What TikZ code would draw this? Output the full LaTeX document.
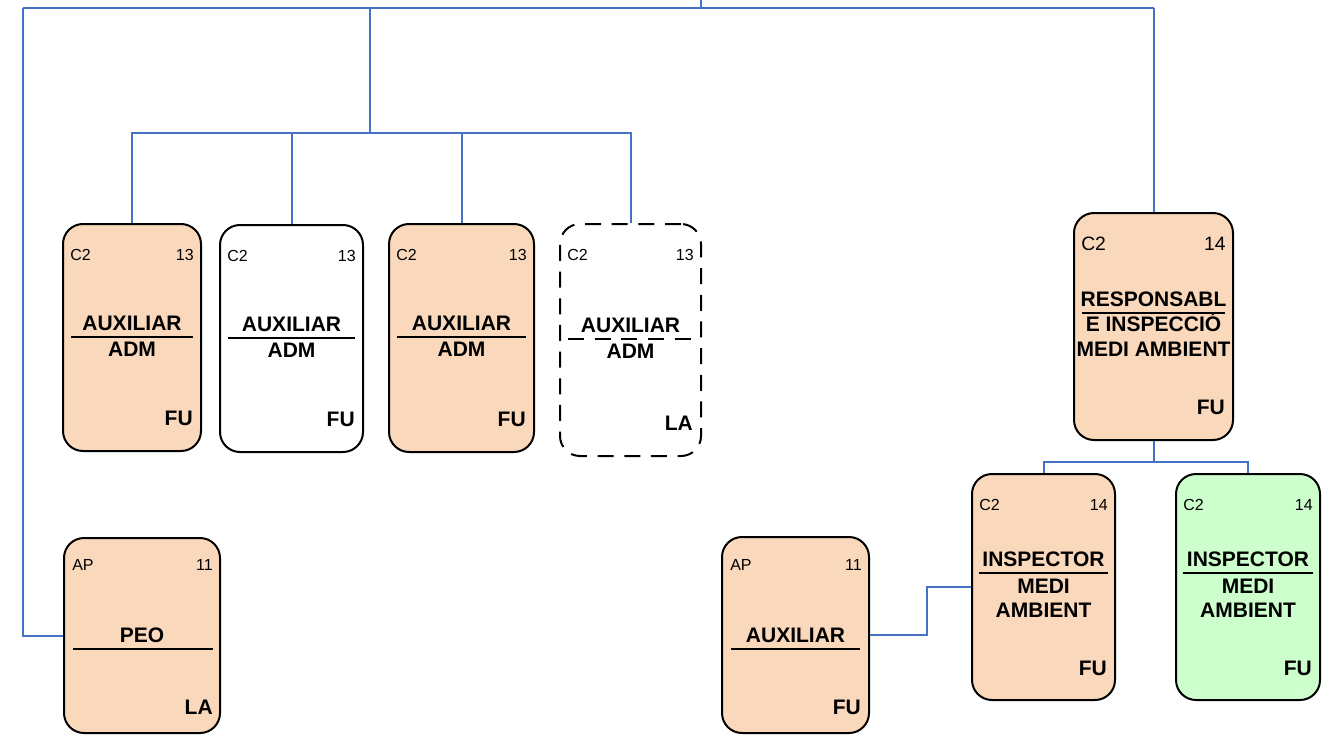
\documentclass[tikz,border=0pt]{standalone}
\usepackage{fontspec}
\setmainfont{Liberation Sans}
\definecolor{cardpeach}{HTML}{FAD8BC}
\definecolor{cardgreen}{HTML}{CCFFCC}
\definecolor{linkblue}{HTML}{4472C4}

\begin{document}
\begin{tikzpicture}[x=0.75pt,y=-0.75pt,
  card/.style={draw=black, line width=1.5pt, rounded corners=15pt, rectangle, inner sep=0pt},
  peach/.style={fill=cardpeach},
  greencard/.style={fill=cardgreen},
  vacant/.style={dash pattern=on 12pt off 8pt},
  grade/.style={inner sep=0pt, font=\fontsize{12}{14}\selectfont},
  biggrade/.style={inner sep=0pt, font=\fontsize{14.5}{17}\selectfont},
  post/.style={inner sep=0pt, font=\bfseries\fontsize{15.75}{19}\selectfont},
  rule/.style={draw=black, line width=1.5pt},
  link/.style={draw=linkblue, line width=1.5pt}]
\useasboundingbox (0,0) rectangle (1341,735);
% cards
\node[card, peach, minimum width=103.5pt, minimum height=170.25pt] (aux1) at (132,337.5) {};
\node[card, minimum width=107.25pt, minimum height=170.25pt] (aux2) at (291.5,338.5) {};
\node[card, peach, minimum width=108.75pt, minimum height=171pt] (aux3) at (461.5,338) {};
\node[card, vacant, minimum width=105.75pt, minimum height=174pt] (aux4) at (630.5,340) {};
\node[card, peach, minimum width=119.25pt, minimum height=170.25pt] (resp) at (1153.5,326.5) {};
\node[card, peach, minimum width=107.25pt, minimum height=169.5pt] (insp1) at (1043.5,587) {};
\node[card, greencard, minimum width=108pt, minimum height=169.5pt] (insp2) at (1248,587) {};
\node[card, peach, minimum width=117pt, minimum height=146.25pt] (peo) at (142,635.5) {};
\node[card, peach, minimum width=110.25pt, minimum height=147pt] (auxap) at (795.5,635) {};
% auxiliar adm 1
\node[grade, anchor=base west] (aux1g) at ([shift={(8,37)}]aux1.north west) {C2};
\node[grade, anchor=base east] (aux1n) at ([shift={(-8,37)}]aux1.north east) {13};
\node[post, anchor=base] (aux1t) at ([shift={(0,107)}]aux1.north) {AUXILIAR};
\draw[rule] ([shift={(9,114)}]aux1.north west) -- ([shift={(-9,114)}]aux1.north east);
\node[post, anchor=base] (aux1s) at ([shift={(0,133)}]aux1.north) {ADM};
\node[post, anchor=base east] (aux1c) at ([shift={(-9,-27)}]aux1.south east) {FU};
% auxiliar adm 2
\node[grade, anchor=base west] (aux2g) at ([shift={(8,37)}]aux2.north west) {C2};
\node[grade, anchor=base east] (aux2n) at ([shift={(-8,37)}]aux2.north east) {13};
\node[post, anchor=base] (aux2t) at ([shift={(0,107)}]aux2.north) {AUXILIAR};
\draw[rule] ([shift={(9,114)}]aux2.north west) -- ([shift={(-9,114)}]aux2.north east);
\node[post, anchor=base] (aux2s) at ([shift={(0,133)}]aux2.north) {ADM};
\node[post, anchor=base east] (aux2c) at ([shift={(-9,-27)}]aux2.south east) {FU};
% auxiliar adm 3
\node[grade, anchor=base west] (aux3g) at ([shift={(8,37)}]aux3.north west) {C2};
\node[grade, anchor=base east] (aux3n) at ([shift={(-8,37)}]aux3.north east) {13};
\node[post, anchor=base] (aux3t) at ([shift={(0,107)}]aux3.north) {AUXILIAR};
\draw[rule] ([shift={(9,114)}]aux3.north west) -- ([shift={(-9,114)}]aux3.north east);
\node[post, anchor=base] (aux3s) at ([shift={(0,133)}]aux3.north) {ADM};
\node[post, anchor=base east] (aux3c) at ([shift={(-9,-27)}]aux3.south east) {FU};
% auxiliar adm 4 (vacant)
\node[grade, anchor=base west] (aux4g) at ([shift={(8,37)}]aux4.north west) {C2};
\node[grade, anchor=base east] (aux4n) at ([shift={(-8,37)}]aux4.north east) {13};
\node[post, anchor=base] (aux4t) at ([shift={(0,109)}]aux4.north) {AUXILIAR};
\draw[rule, vacant] ([shift={(9,116)}]aux4.north west) -- ([shift={(-9,116)}]aux4.north east);
\node[post, anchor=base] (aux4s) at ([shift={(0,135)}]aux4.north) {ADM};
\node[post, anchor=base east] (aux4c) at ([shift={(-9,-27)}]aux4.south east) {LA};
% responsable
\node[biggrade, anchor=base west] (respg) at ([shift={(8,38)}]resp.north west) {C2};
\node[biggrade, anchor=base east] (respn) at ([shift={(-8,38)}]resp.north east) {14};
\node[post, anchor=base] (respt) at ([shift={(0,94)}]resp.north) {RESPONSABL};
\draw[rule] ([shift={(9,101)}]resp.north west) -- ([shift={(-9,101)}]resp.north east);
\node[post, anchor=base] (resps) at ([shift={(0,119)}]resp.north) {E INSPECCIÓ};
\node[post, anchor=base] (respm) at ([shift={(0,144)}]resp.north) {MEDI AMBIENT};
\node[post, anchor=base east] (respc) at ([shift={(-9,-27)}]resp.south east) {FU};
% inspector 1
\node[grade, anchor=base west] (insp1g) at ([shift={(8,37)}]insp1.north west) {C2};
\node[grade, anchor=base east] (insp1n) at ([shift={(-8,37)}]insp1.north east) {14};
\node[post, anchor=base] (insp1t) at ([shift={(0,93)}]insp1.north) {INSPECTOR};
\draw[rule] ([shift={(8,100)}]insp1.north west) -- ([shift={(-8,100)}]insp1.north east);
\node[post, anchor=base] (insp1s) at ([shift={(0,120)}]insp1.north) {MEDI};
\node[post, anchor=base] (insp1m) at ([shift={(0,144)}]insp1.north) {AMBIENT};
\node[post, anchor=base east] (insp1c) at ([shift={(-9,-26)}]insp1.south east) {FU};
% inspector 2
\node[grade, anchor=base west] (insp2g) at ([shift={(8,37)}]insp2.north west) {C2};
\node[grade, anchor=base east] (insp2n) at ([shift={(-8,37)}]insp2.north east) {14};
\node[post, anchor=base] (insp2t) at ([shift={(0,93)}]insp2.north) {INSPECTOR};
\draw[rule] ([shift={(8,100)}]insp2.north west) -- ([shift={(-8,100)}]insp2.north east);
\node[post, anchor=base] (insp2s) at ([shift={(0,120)}]insp2.north) {MEDI};
\node[post, anchor=base] (insp2m) at ([shift={(0,144)}]insp2.north) {AMBIENT};
\node[post, anchor=base east] (insp2c) at ([shift={(-9,-26)}]insp2.south east) {FU};
% peo
\node[grade, anchor=base west] (peog) at ([shift={(9,33)}]peo.north west) {AP};
\node[grade, anchor=base east] (peon) at ([shift={(-8,33)}]peo.north east) {11};
\node[post, anchor=base] (peot) at ([shift={(0,105)}]peo.north) {PEO};
\draw[rule] ([shift={(10,112)}]peo.north west) -- ([shift={(-8,112)}]peo.north east);
\node[post, anchor=base east] (peoc) at ([shift={(-8,-20)}]peo.south east) {LA};
% auxiliar ap
\node[grade, anchor=base west] (auxapg) at ([shift={(9,34)}]auxap.north west) {AP};
\node[grade, anchor=base east] (auxapn) at ([shift={(-8,34)}]auxap.north east) {11};
\node[post, anchor=base] (auxapt) at ([shift={(0,106)}]auxap.north) {AUXILIAR};
\draw[rule] ([shift={(10,113)}]auxap.north west) -- ([shift={(-10,113)}]auxap.north east);
\node[post, anchor=base east] (auxapc) at ([shift={(-9,-20)}]auxap.south east) {FU};
% links
\coordinate (root) at (701,0);
\coordinate (rootbar) at (701,8);
\coordinate (leftbar) at (23,8);
\coordinate (rightbar) at (1153.5,8);
\coordinate (admbar) at (370,8);
\coordinate (admhub) at (370,133);
\coordinate (respbar) at (1153.5,462);
\coordinate (elbow) at (927,587);
\draw[link] (root) -- (rootbar);
\draw[link] (leftbar) -- (rightbar);
\draw[link] (leftbar) |- (peo.west);
\draw[link] (rightbar) -- (resp.north);
\draw[link] (admbar) -- (admhub);
\draw[link] (admhub) -| (aux1.north);
\draw[link] (admhub) -| (aux2.north);
\draw[link] (admhub) -| (aux3.north);
\draw[link] (admhub) -| (aux4.north);
\draw[link] (resp.south) -- (respbar);
\draw[link] (respbar) -| (insp1.north);
\draw[link] (respbar) -| (insp2.north);
\draw[link] (auxap.east) -| (elbow) -- (insp1.west);
\end{tikzpicture}
\end{document}
